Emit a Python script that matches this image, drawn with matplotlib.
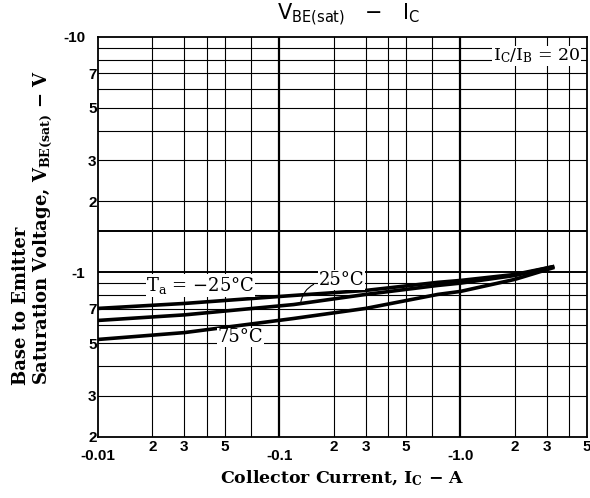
import matplotlib
matplotlib.use("Agg")
import matplotlib.pyplot as plt
from matplotlib.ticker import FixedLocator, FixedFormatter

plt.rcParams["font.family"] = ["DejaVu Serif"]
plt.rcParams["mathtext.fontset"] = "dejavuserif"

# 读图得到的数据
ic = [0.01, 0.03, 0.12, 0.3, 0.75, 1.0, 2.0, 3.3]
vbe_m25 = [0.703, 0.738, 0.798, 0.838, 0.907, 0.924, 0.98, 1.06]
vbe_25 = [0.625, 0.66, 0.73, 0.806, 0.88, 0.90, 0.97, 1.06]
vbe_75 = [0.519, 0.555, 0.637, 0.703, 0.806, 0.83, 0.934, 1.05]

x_grid = [0.02, 0.03, 0.04, 0.05, 0.07, 0.1, 0.2, 0.3, 0.4, 0.5, 0.7, 1.0, 2, 3, 4]
y_grid = [0.3, 0.4, 0.5, 0.6, 0.7, 0.8, 0.9, 1.0, 1.5, 2, 3, 4, 5, 6, 7, 8, 9]
x_major = [0.01, 0.1, 1.0]
x_major_lbl = ["-0.01", "-0.1", "-1.0"]
x_minor = [0.02, 0.03, 0.05, 0.2, 0.3, 0.5, 2, 3, 5]
x_minor_lbl = ["2", "3", "5", "2", "3", "5", "2", "3", "5"]
y_major = [1, 10]
y_major_lbl = ["-1", "-10"]
y_minor = [0.2, 0.3, 0.5, 0.7, 2, 3, 5, 7]
y_minor_lbl = ["2", "3", "5", "7", "2", "3", "5", "7"]

fig = plt.figure(figsize=(5.9, 4.98), dpi=100)
ax = fig.add_axes([0.166, 0.1225, 0.829, 0.8035])
ax.set_xscale("log")
ax.set_yscale("log")
ax.set_xlim(0.01, 5)
ax.set_ylim(0.2, 10)

# 网格
for v in x_grid:
    ax.axvline(v, color="k", lw=1.6 if v in (0.1, 1.0) else 0.8, zorder=1)
for v in y_grid:
    ax.axhline(v, color="k", lw=1.4 if v in (1.0, 1.5) else 0.8, zorder=1)

# 曲线
for ys in (vbe_m25, vbe_25, vbe_75):
    ax.plot(ic, ys, color="k", lw=2.6, solid_capstyle="butt", zorder=3)

for s in ax.spines.values():
    s.set_linewidth(1.3)

# 刻度
ax.xaxis.set_major_locator(FixedLocator(x_major))
ax.xaxis.set_major_formatter(FixedFormatter(x_major_lbl))
ax.xaxis.set_minor_locator(FixedLocator(x_minor))
ax.xaxis.set_minor_formatter(FixedFormatter(x_minor_lbl))
ax.yaxis.set_major_locator(FixedLocator(y_major))
ax.yaxis.set_major_formatter(FixedFormatter(y_major_lbl))
ax.yaxis.set_minor_locator(FixedLocator(y_minor))
ax.yaxis.set_minor_formatter(FixedFormatter(y_minor_lbl))
ax.tick_params(axis="x", which="major", length=0, pad=9)
ax.tick_params(axis="x", which="minor", length=0, pad=2)
ax.tick_params(axis="y", which="major", length=0, pad=9)
ax.tick_params(axis="y", which="minor", length=0, pad=1)
for lab in ax.get_xticklabels(which="both") + ax.get_yticklabels(which="both"):
    lab.set_fontfamily("Liberation Sans")
    lab.set_fontweight("bold")
    lab.set_fontsize(11)

# 标注
box = dict(facecolor="white", edgecolor="none", pad=0.5)
ax.text(0.0368, 0.88, r"T$_\mathrm{a}$ = −25°C", fontsize=13, ha="center", va="center",
        bbox=box, zorder=4)
ax.text(0.222, 0.93, "25°C", fontsize=13, ha="center", va="center", bbox=box, zorder=4)
ax.annotate("", xy=(0.131, 0.725), xytext=(0.16, 0.9),
            arrowprops=dict(arrowstyle="-", color="k", lw=0.8,
                            connectionstyle="arc3,rad=0.3"), zorder=4)
ax.text(0.0612, 0.53, "75°C", fontsize=13, ha="center", va="center", bbox=box, zorder=4)
ax.text(0.986, 0.952, r"I$_\mathrm{C}$/I$_\mathrm{B}$ = 20", transform=ax.transAxes,
        fontsize=12.5, ha="right", va="center", bbox=box, zorder=4)

fig.text(0.59, 0.97, r"V$_\mathsf{BE(sat)}$   −   I$_\mathsf{C}$", fontsize=15,
         family="DejaVu Sans", ha="center", va="center")
ax.set_xlabel(r"Collector Current, I$_\mathbf{C}$ − A", fontsize=12.5, fontweight="bold",
              labelpad=4)
fig.text(0.02, 0.227, "Base to Emitter\n" + r"Saturation Voltage, V$_\mathbf{BE(sat)}$ − V",
         rotation=90, ha="left", va="bottom", multialignment="left",
         fontsize=13, fontweight="bold", linespacing=1.1)

fig.savefig("out.png", dpi=100)
